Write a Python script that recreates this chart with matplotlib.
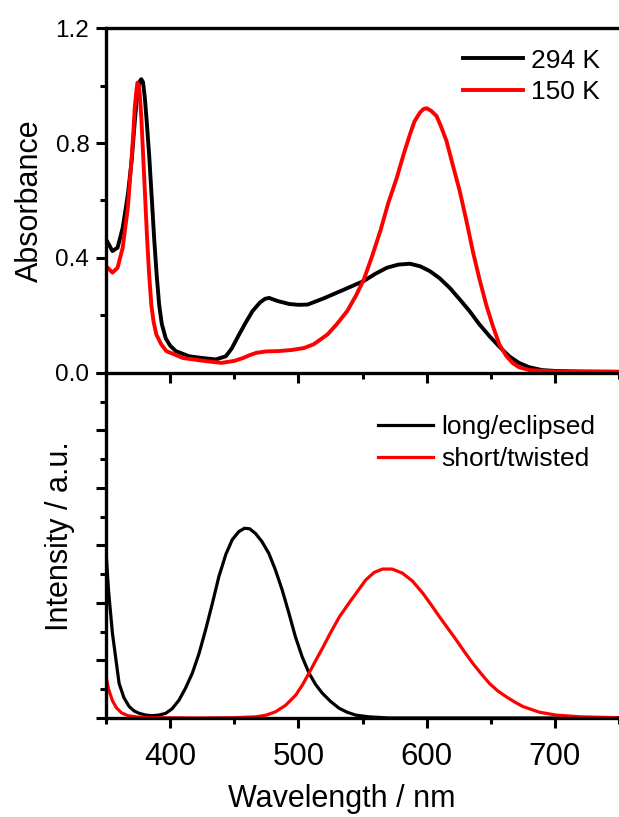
import matplotlib
matplotlib.use("Agg")
import matplotlib.pyplot as plt
from matplotlib.ticker import MultipleLocator, NullFormatter

plt.rcParams['font.family'] = ['Liberation Sans', 'DejaVu Sans']

# absorbance, 294 K
abs_294_x = [350, 355, 359, 363, 367, 370, 372.5, 374.6, 376.3, 377.5, 378.8, 380.2, 381.8, 383.6,
             385.5, 387.5, 389.5, 391.4, 393.5, 396.6, 400, 404.4, 414.8, 425, 435.6, 443.4, 448,
             453.8, 459, 464.2, 470, 474, 477.2, 484, 492.8, 500, 507.2, 520, 535.6, 551, 560,
             569, 578, 587, 595, 602.6, 610, 618, 626, 633.5, 641, 649, 657, 664.4, 672, 680,
             690, 700, 720, 750]
abs_294_y = [0.465, 0.424, 0.436, 0.505, 0.62, 0.74, 0.88, 0.985, 1.015, 1.022, 1.012, 0.96, 0.87,
             0.76, 0.62, 0.47, 0.34, 0.238, 0.17, 0.12, 0.095, 0.076, 0.058, 0.052, 0.047, 0.058,
             0.085, 0.134, 0.176, 0.215, 0.245, 0.258, 0.261, 0.25, 0.24, 0.237, 0.238, 0.26,
             0.29, 0.32, 0.345, 0.366, 0.377, 0.38, 0.371, 0.354, 0.33, 0.296, 0.255, 0.215,
             0.17, 0.128, 0.09, 0.058, 0.035, 0.02, 0.01, 0.007, 0.005, 0.004]

# absorbance, 150 K
abs_150_x = [350, 355, 359, 363, 367, 369.8, 371.2, 372.4, 373.5, 374.5, 375.5, 376.3, 377.5,
             378.9, 380.5, 382, 383.5, 385.3, 387, 389.2, 393, 397, 410, 428.2, 440, 450, 456.8,
             462, 467.2, 475, 484, 495, 504.6, 512, 522.7, 530, 538, 545, 551, 557, 563.9, 570,
             576.8, 582, 587, 590.5, 594.8, 597.5, 600, 603.5, 607.7, 611, 615.5, 620, 625.8,
             631, 636, 641, 646.4, 651.5, 656.7, 662, 667, 672, 680, 700, 750]
abs_150_y = [0.372, 0.349, 0.366, 0.436, 0.575, 0.738, 0.83, 0.923, 0.975, 1.01, 1.0, 0.97, 0.89,
             0.76, 0.61, 0.47, 0.35, 0.238, 0.18, 0.134, 0.1, 0.076, 0.052, 0.041, 0.035, 0.042,
             0.052, 0.062, 0.07, 0.075, 0.076, 0.08, 0.087, 0.1, 0.134, 0.17, 0.215, 0.27, 0.325,
             0.4, 0.494, 0.59, 0.68, 0.76, 0.83, 0.875, 0.906, 0.918, 0.921, 0.912, 0.894, 0.86,
             0.807, 0.73, 0.633, 0.53, 0.424, 0.33, 0.238, 0.165, 0.099, 0.06, 0.035, 0.02,
             0.01, 0.005, 0.004]

# emission, long/eclipsed
em_long_x = [350, 352, 355, 360.2, 364, 368, 372, 376, 381, 386, 391, 396.5, 401.5, 406.9, 412,
             417.3, 422.5, 427.6, 433, 438, 443.5, 448.4, 453.5, 458, 462, 466.5, 471.5, 477,
             482, 487.3, 492.5, 497.7, 503, 508.3, 513.5, 518.7, 525, 531.7, 538, 544.7, 555,
             570.7, 600, 750]
em_long_y = [2.89, 2.2, 1.47, 0.6, 0.35, 0.2, 0.12, 0.08, 0.05, 0.04, 0.05, 0.08, 0.16, 0.31, 0.52,
             0.78, 1.12, 1.53, 2.0, 2.46, 2.85, 3.1, 3.24, 3.3, 3.29, 3.21, 3.07, 2.86, 2.58,
             2.23, 1.83, 1.41, 1.06, 0.78, 0.58, 0.43, 0.29, 0.17, 0.1, 0.05, 0.02, 0.0, 0.0, 0.0]

# emission, short/twisted
em_short_x = [350, 352, 355, 358, 362, 367, 375, 390, 420, 450, 466.8, 475, 482.4, 490, 498, 503,
              508.3, 513.5, 518.7, 525, 532, 539.5, 546, 552.5, 559, 565.5, 573, 581, 589, 597,
              603.5, 610, 616.5, 623, 629.5, 636, 642.5, 649, 655.5, 662, 668.5, 675, 688, 701,
              720, 750]
em_short_y = [0.72, 0.5, 0.3, 0.18, 0.09, 0.04, 0.015, 0.005, 0.0, 0.005, 0.02, 0.05, 0.11, 0.22,
              0.4, 0.57, 0.78, 1.0, 1.21, 1.48, 1.76, 2.0, 2.2, 2.4, 2.53, 2.59, 2.59, 2.52, 2.38,
              2.17, 1.97, 1.76, 1.56, 1.36, 1.15, 0.95, 0.77, 0.6, 0.47, 0.37, 0.28, 0.2, 0.1,
              0.05, 0.02, 0.005]

fig = plt.figure(figsize=(6.19, 8.17), dpi=100)
ax1 = fig.add_axes([0.1713, 0.5435, 0.8287, 0.4222])
ax2 = fig.add_axes([0.1713, 0.1212, 0.8287, 0.4223])
ax1.patch.set_visible(False)
ax2.patch.set_visible(False)

ax1.plot(abs_294_x, abs_294_y, color='black', lw=2.8, label='294 K')
ax1.plot(abs_150_x, abs_150_y, color='#ff0000', lw=2.8, label='150 K')
ax2.plot(em_long_x, em_long_y, color='black', lw=2.3, label='long/eclipsed')
ax2.plot(em_short_x, em_short_y, color='#ff0000', lw=2.3, label='short/twisted')

for ax in (ax1, ax2):
    ax.set_xlim(350, 750)
    ax.spines['right'].set_visible(False)
    for s in ax.spines.values():
        s.set_linewidth(2.4)
    ax.xaxis.set_major_locator(MultipleLocator(100))
    ax.xaxis.set_minor_locator(MultipleLocator(50))
    ax.tick_params(which='major', direction='out', length=7, width=2.2)
    ax.tick_params(which='minor', direction='out', length=4.5, width=2.2)
    ax.tick_params(top=False, right=False)

ax1.set_ylim(0, 1.2)
ax1.yaxis.set_major_locator(MultipleLocator(0.4))
ax1.yaxis.set_minor_locator(MultipleLocator(0.2))
ax1.yaxis.set_major_formatter(lambda v, p: f"{v:.1f}")
ax1.xaxis.set_major_formatter(NullFormatter())
ax1.tick_params(axis='y', labelsize=17.5, pad=5)
ax1.set_ylabel('Absorbance', fontsize=22)
ax1.yaxis.set_label_coords(-0.12, 0.5)

ax2.set_ylim(0, 6)
ax2.spines['top'].set_visible(False)
ax2.yaxis.set_major_locator(MultipleLocator(1))
ax2.yaxis.set_minor_locator(MultipleLocator(0.5))
ax2.yaxis.set_major_formatter(NullFormatter())
ax2.tick_params(axis='x', labelsize=22.5, pad=10)
ax2.set_ylabel('Intensity / a.u.', fontsize=22)
ax2.yaxis.set_label_coords(-0.06, 0.526)
ax2.set_xlabel('Wavelength / nm', fontsize=22)
ax2.xaxis.set_label_coords(0.459, -0.19)

ax1.legend(loc='upper left', bbox_to_anchor=(0.695, 0.94), frameon=False, fontsize=19,
           handlelength=2.3, handletextpad=0.3, borderpad=0, borderaxespad=0, labelspacing=0.28)
ax2.legend(loc='upper left', bbox_to_anchor=(0.53, 0.877), frameon=False, fontsize=19,
           handlelength=2.1, handletextpad=0.3, borderpad=0, borderaxespad=0, labelspacing=0.28)

fig.savefig('out.png', dpi=100)
